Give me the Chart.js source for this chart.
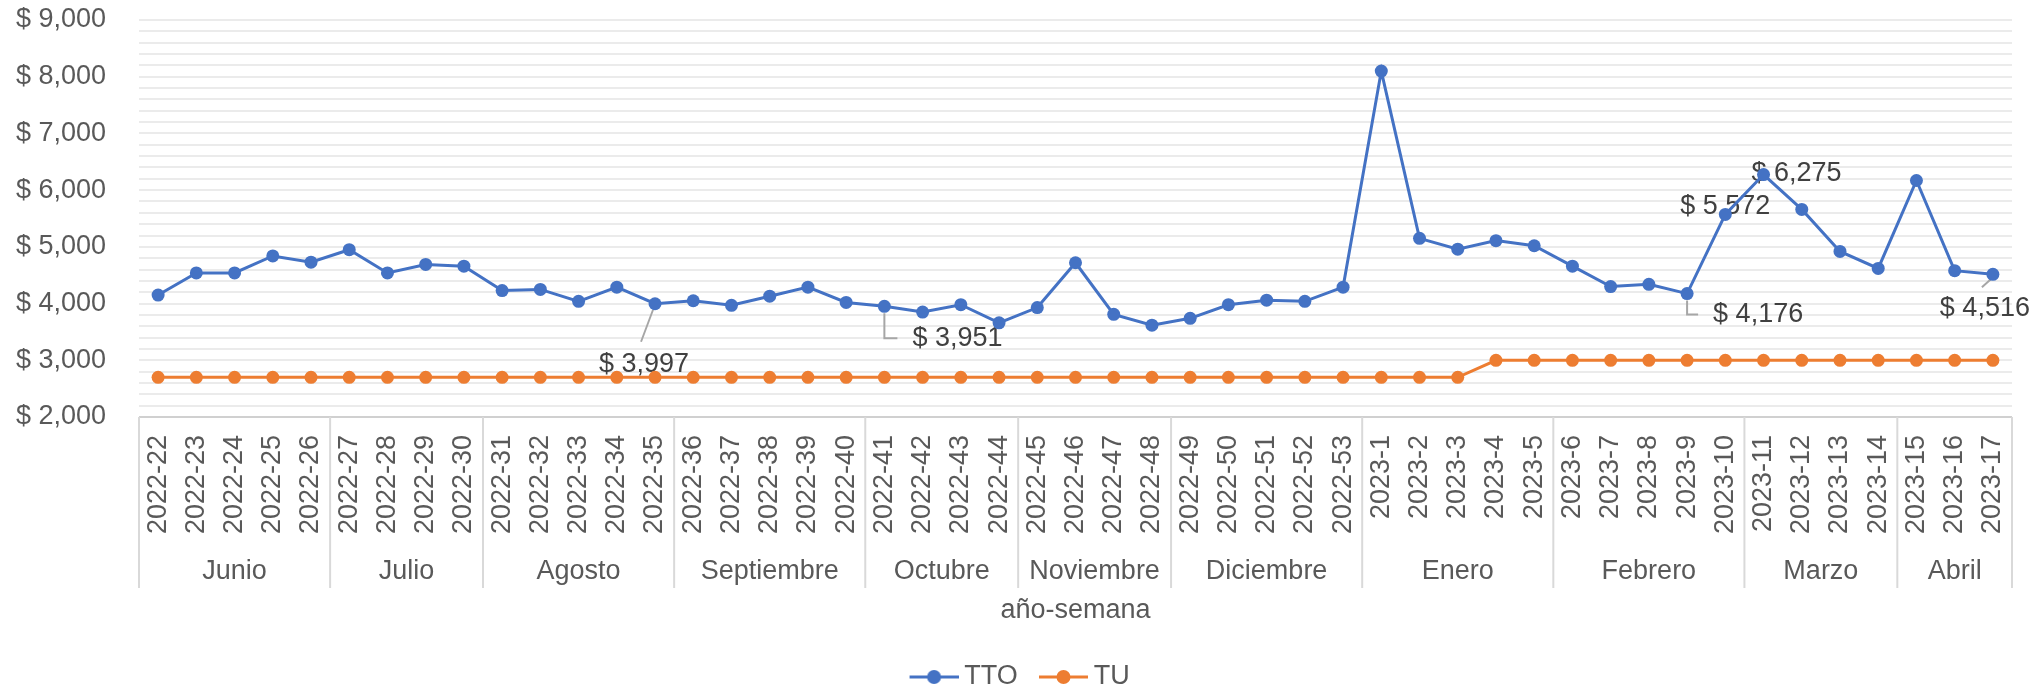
<!DOCTYPE html>
<html>
<head>
<meta charset="utf-8">
<script src="https://cdn.jsdelivr.net/npm/chart.js@4.4.0/dist/chart.umd.min.js"></script>
<style>
  html, body { margin: 0; padding: 0; background: #fff; }
  #wrap { width: 2044px; height: 692px; }
</style>
</head>
<body>
<div id="wrap"><canvas id="chart" width="2044" height="692"></canvas></div>
<script>
const weeks = [
    '2022-22', '2022-23', '2022-24', '2022-25', '2022-26', '2022-27', '2022-28', '2022-29', '2022-30',
    '2022-31', '2022-32', '2022-33', '2022-34', '2022-35', '2022-36', '2022-37', '2022-38', '2022-39',
    '2022-40', '2022-41', '2022-42', '2022-43', '2022-44', '2022-45', '2022-46', '2022-47', '2022-48',
    '2022-49', '2022-50', '2022-51', '2022-52', '2022-53', '2023-1', '2023-2', '2023-3', '2023-4',
    '2023-5', '2023-6', '2023-7', '2023-8', '2023-9', '2023-10', '2023-11', '2023-12', '2023-13',
    '2023-14', '2023-15', '2023-16', '2023-17'
];
const months = ['Junio', 'Julio', 'Agosto', 'Septiembre', 'Octubre', 'Noviembre', 'Diciembre', 'Enero', 'Febrero', 'Marzo', 'Abril'];
const monthWeeks = [5, 4, 5, 5, 4, 4, 5, 5, 5, 4, 3];

const tto = [
    4150, 4540, 4540, 4840, 4730, 4950, 4540, 4690, 4660,
    4230, 4250, 4040, 4290, 3997, 4050, 3970, 4130, 4290,
    4020, 3951, 3850, 3980, 3660, 3930, 4720, 3810, 3620,
    3740, 3980, 4060, 4040, 4290, 8100, 5150, 4960, 5110,
    5020, 4660, 4300, 4340, 4176, 5572, 6275, 5660, 4920,
    4620, 6170, 4580, 4516
];
const tu = [
    2700, 2700, 2700, 2700, 2700, 2700, 2700, 2700, 2700,
    2700, 2700, 2700, 2700, 2700, 2700, 2700, 2700, 2700,
    2700, 2700, 2700, 2700, 2700, 2700, 2700, 2700, 2700,
    2700, 2700, 2700, 2700, 2700, 2700, 2700, 2700, 3000,
    3000, 3000, 3000, 3000, 3000, 3000, 3000, 3000, 3000,
    3000, 3000, 3000, 3000
];

const FONT = '"Liberation Sans", Arial, sans-serif';
const TEXT = '#595959';
const BLUE = '#4472C4';
const ORANGE = '#ED7D31';

Chart.defaults.font.family = FONT;
Chart.defaults.font.size = 27;
Chart.defaults.color = TEXT;

// etiquetas de datos con linea guia (offsets relativos al punto)
const callouts = {
    13: { dx: -11, dy: 61, align: 'center', leader: [[-14, 38], [-2, 6]] },
    19: { dx: 28, dy: 32, align: 'left', leader: [[0, 7], [0, 32], [13, 32]] },
    40: { dx: 26, dy: 21, align: 'left', leader: [[0, 7], [0, 21], [11, 21]] },
    41: { dx: 0, dy: -8, align: 'center' },
    42: { dx: 33, dy: -1, align: 'center' },
    48: { dx: -8, dy: 34, align: 'center', leader: [[-11, 13], [-1, 4]] }
};

const calloutPlugin = {
    id: 'callouts',
    beforeDatasetsDraw(chart) {
        const ctx = chart.ctx;
        const pts = chart.getDatasetMeta(0).data;
        ctx.save();
        ctx.font = '27px ' + FONT;
        ctx.fillStyle = '#404040';
        ctx.textBaseline = 'middle';
        ctx.strokeStyle = '#a6a6a6';
        ctx.lineWidth = 2;
        Object.keys(callouts).forEach(k => {
            const c = callouts[k];
            const p = pts[k];
            if (c.leader) {
                ctx.beginPath();
                c.leader.forEach((q, i) => {
                    if (i == 0) ctx.moveTo(p.x + q[0], p.y + q[1]);
                    else ctx.lineTo(p.x + q[0], p.y + q[1]);
                });
                ctx.stroke();
            }
            ctx.textAlign = c.align;
            ctx.fillText('$ ' + tto[k].toLocaleString('en-US'), p.x + c.dx, p.y + c.dy);
        });
        ctx.restore();
    }
};

// meses agrupados bajo las semanas
const monthPlugin = {
    id: 'monthGroups',
    afterDraw(chart) {
        const x = chart.scales.x;
        const ctx = chart.ctx;
        const top = chart.chartArea.bottom;
        const half = (x.getPixelForValue(1) - x.getPixelForValue(0)) / 2;
        const edge = i => x.getPixelForValue(i) - half;
        ctx.save();
        ctx.strokeStyle = '#d9d9d9';
        ctx.lineWidth = 2;
        ctx.font = '27px ' + FONT;
        ctx.fillStyle = TEXT;
        ctx.textAlign = 'center';
        ctx.textBaseline = 'middle';
        const vline = px => {
            ctx.beginPath();
            ctx.moveTo(px, top);
            ctx.lineTo(px, top + 171);
            ctx.stroke();
        };
        let start = 0;
        vline(edge(0));
        months.forEach((m, k) => {
            const end = start + monthWeeks[k];
            vline(edge(end));
            ctx.fillText(m, (edge(start) + edge(end)) / 2, top + 155);
            start = end;
        });
        ctx.restore();
    }
};

// icono de leyenda: linea con punto, con margen transparente a la izquierda
function legendIcon(color) {
    const c = document.createElement('canvas');
    c.width = 68;
    c.height = 18;
    const g = c.getContext('2d');
    g.strokeStyle = color;
    g.lineWidth = 3;
    g.beginPath();
    g.moveTo(19, 9);
    g.lineTo(68, 9);
    g.stroke();
    g.fillStyle = color;
    g.beginPath();
    g.arc(43.5, 9, 7, 0, Math.PI * 2);
    g.fill();
    return c;
}
const icons = [legendIcon(BLUE), legendIcon(ORANGE)];

const ctx = document.getElementById('chart').getContext('2d');

const chart = new Chart(ctx, {
    type: 'line',
    data: {
        labels: weeks,
        datasets: [
            {
                label: 'TTO',
                data: tto,
                borderColor: BLUE,
                backgroundColor: BLUE,
                borderWidth: 3,
                pointRadius: 6.5,
                pointBorderWidth: 0,
                pointStyle: 'circle'
            },
            {
                label: 'TU',
                data: tu,
                borderColor: ORANGE,
                backgroundColor: ORANGE,
                borderWidth: 3,
                pointRadius: 6.5,
                pointBorderWidth: 0,
                pointStyle: 'circle'
            }
        ]
    },
    options: {
        responsive: false,
        animation: false,
        layout: {
            padding: { top: 20, right: 32, bottom: -8.5, left: 16 }
        },
        plugins: {
            tooltip: { enabled: false },
            legend: {
                position: 'bottom',
                labels: {
                    usePointStyle: true,
                    pointStyleWidth: 52.5,
                    boxHeight: 18,
                    padding: 10,
                    color: TEXT,
                    font: { size: 27 },
                    generateLabels(chart) {
                        const items = Chart.defaults.plugins.legend.labels.generateLabels(chart);
                        items.forEach((it, i) => { it.pointStyle = icons[i]; });
                        return items;
                    }
                }
            }
        },
        scales: {
            x: {
                offset: true,
                grid: { display: false, drawTicks: false },
                border: { display: false },
                ticks: {
                    autoSkip: false,
                    minRotation: 90,
                    maxRotation: 90,
                    padding: 18,
                    color: TEXT
                },
                title: {
                    display: true,
                    text: 'año-semana',
                    color: TEXT,
                    padding: { top: 42, bottom: 27 }
                }
            },
            y: {
                min: 2000,
                max: 9000,
                afterFit(scale) { scale.width = 123; },
                border: { display: false },
                grid: {
                    drawTicks: false,
                    lineWidth: 2,
                    color: c => c.tick && c.tick.value === 2000 ? '#d0d0d0' : '#ebebeb'
                },
                ticks: {
                    stepSize: 200,
                    autoSkip: false,
                    padding: 0,
                    crossAlign: 'far',
                    color: TEXT,
                    callback: v => v % 1000 === 0 ? '$ ' + v.toLocaleString('en-US') : ''
                }
            }
        }
    },
    plugins: [calloutPlugin, monthPlugin]
});
</script>
</body>
</html>
